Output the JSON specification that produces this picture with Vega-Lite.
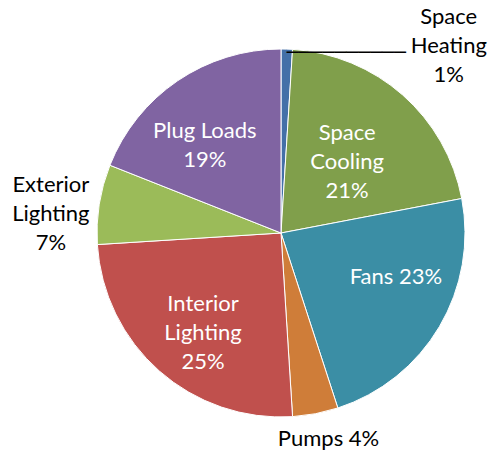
{
  "$schema": "https://vega.github.io/schema/vega-lite/v6.json",
  "width": 416,
  "height": 438,
  "autosize": {"type": "none"},
  "padding": {"left": 73, "top": 14, "right": 0, "bottom": 0},
  "background": "white",
  "config": {"view": {"stroke": null}},
  "data": {
    "values": [
      {"k": 1, "name": "Space Heating", "value": 1, "label": "Space\nHeating\n1%"},
      {"k": 2, "name": "Space Cooling", "value": 21, "label": "Space\nCooling\n21%"},
      {"k": 3, "name": "Fans", "value": 23, "label": "Fans 23%"},
      {"k": 4, "name": "Pumps", "value": 4, "label": "Pumps 4%"},
      {"k": 5, "name": "Interior Lighting", "value": 25, "label": "Interior\nLighting\n25%"},
      {"k": 6, "name": "Exterior Lighting", "value": 7, "label": "Exterior\nLighting\n7%"},
      {"k": 7, "name": "Plug Loads", "value": 19, "label": "Plug Loads\n19%"}
    ]
  },
  "encoding": {
    "theta": {"field": "value", "type": "quantitative", "stack": true},
    "order": {"field": "k", "type": "quantitative"},
    "detail": {"field": "name", "type": "nominal"}
  },
  "layer": [
    {
      "mark": {"type": "arc", "outerRadius": 184, "stroke": "white", "strokeWidth": 1},
      "encoding": {
        "color": {
          "field": "name",
          "type": "nominal",
          "legend": null,
          "scale": {
            "domain": ["Space Heating", "Space Cooling", "Fans", "Pumps", "Interior Lighting", "Exterior Lighting", "Plug Loads"],
            "range": ["#4470A8", "#809F4B", "#3B8EA5", "#CF7D39", "#C0504D", "#9BBB59", "#8064A2"]
          }
        }
      }
    },
    {
      "mark": {"type": "text", "radius": 184, "align": "left", "baseline": "middle", "font": "DejaVu Sans", "fontSize": 19.8, "fill": "black", "dy": 4},
      "encoding": {
        "text": {"condition": {"test": "datum.name === 'Space Heating'", "value": "──────────"}, "value": ""}
      }
    },
    {
      "mark": {"type": "text", "radius": 184, "dx": 162, "dy": -32, "lineBreak": "\n", "lineHeight": 29, "font": "Lato", "fontSize": 22, "fill": "black", "align": "center", "baseline": "middle"},
      "encoding": {
        "text": {"condition": {"test": "datum.name === 'Space Heating'", "field": "label"}, "value": ""}
      }
    },
    {
      "mark": {"type": "text", "radius": 97, "dx": 2, "dy": -27, "lineBreak": "\n", "lineHeight": 29, "font": "Lato", "fontSize": 22, "fill": "white", "align": "center", "baseline": "middle"},
      "encoding": {
        "text": {"condition": {"test": "datum.name === 'Space Cooling'", "field": "label"}, "value": ""}
      }
    },
    {
      "mark": {"type": "text", "radius": 123, "dx": 9, "dy": -19, "lineBreak": "\n", "lineHeight": 29, "font": "Lato", "fontSize": 22, "fill": "white", "align": "center", "baseline": "middle"},
      "encoding": {
        "text": {"condition": {"test": "datum.name === 'Fans'", "field": "label"}, "value": ""}
      }
    },
    {
      "mark": {"type": "text", "radius": 211, "dx": 8, "dy": -1, "lineBreak": "\n", "lineHeight": 29, "font": "Lato", "fontSize": 22, "fill": "black", "align": "center", "baseline": "middle"},
      "encoding": {
        "text": {"condition": {"test": "datum.name === 'Pumps'", "field": "label"}, "value": ""}
      }
    },
    {
      "mark": {"type": "text", "radius": 127, "dx": 6, "dy": -24, "lineBreak": "\n", "lineHeight": 29, "font": "Lato", "fontSize": 22, "fill": "white", "align": "center", "baseline": "middle"},
      "encoding": {
        "text": {"condition": {"test": "datum.name === 'Interior Lighting'", "field": "label"}, "value": ""}
      }
    },
    {
      "mark": {"type": "text", "radius": 231, "dx": -2, "dy": -12, "lineBreak": "\n", "lineHeight": 29, "font": "Lato", "fontSize": 22, "fill": "black", "align": "center", "baseline": "middle"},
      "encoding": {
        "text": {"condition": {"test": "datum.name === 'Exterior Lighting'", "field": "label"}, "value": ""}
      }
    },
    {
      "mark": {"type": "text", "radius": 116, "dx": -11, "dy": -6, "lineBreak": "\n", "lineHeight": 29, "font": "Lato", "fontSize": 22, "fill": "white", "align": "center", "baseline": "middle"},
      "encoding": {
        "text": {"condition": {"test": "datum.name === 'Plug Loads'", "field": "label"}, "value": ""}
      }
    }
  ]
}
